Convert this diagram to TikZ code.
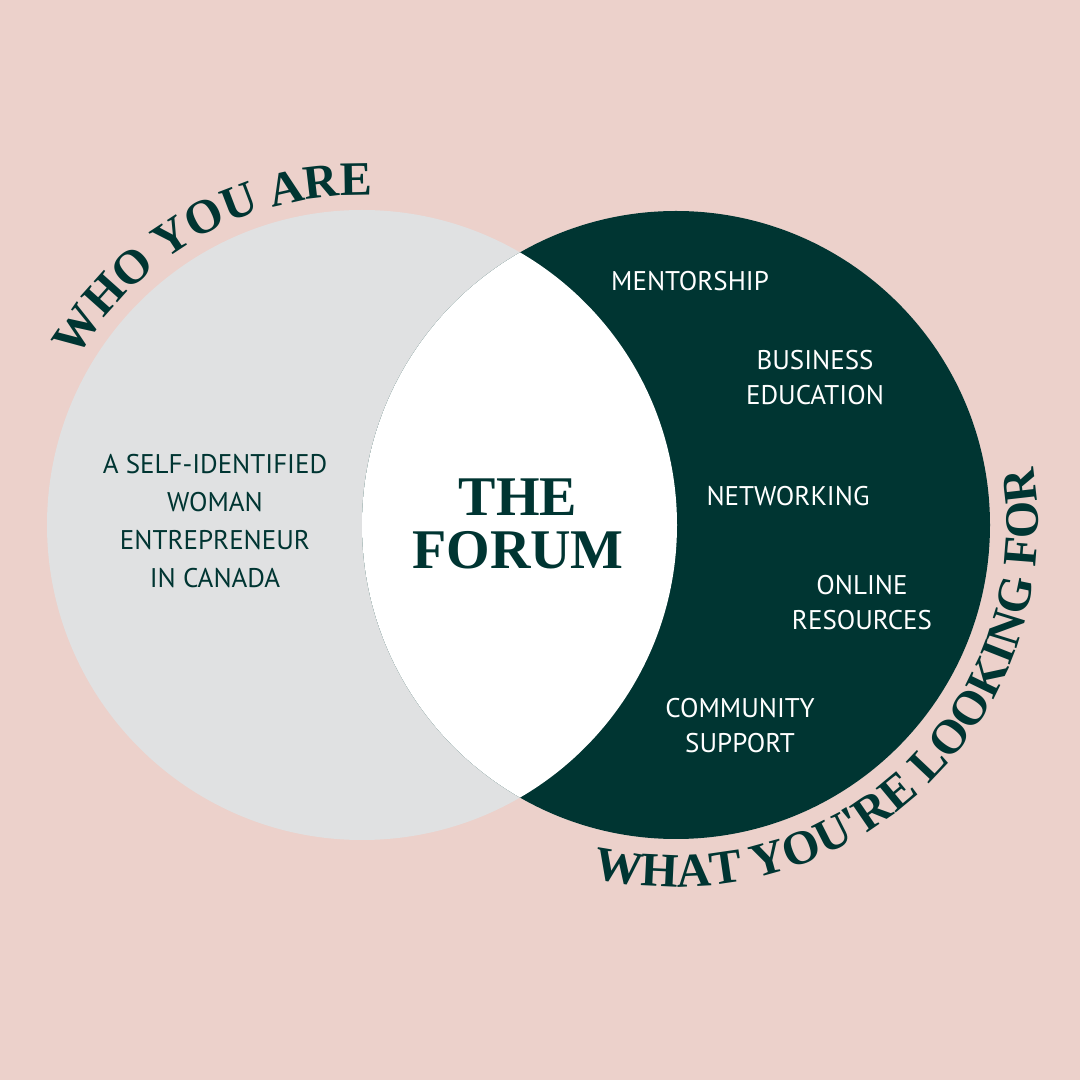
\documentclass[tikz,border=0pt]{standalone}
\usepackage{fontspec}
\setmainfont{Liberation Serif}
\newfontfamily\itemfont{PT Sans}
\newfontfamily\arcfont{Liberation Serif}
\usetikzlibrary{decorations.text}
\definecolor{bgpink}{RGB}{236,209,203}
\definecolor{forumgreen}{RGB}{0,53,50}
\definecolor{leftgray}{RGB}{224,225,226}
\tikzset{every picture/.style={line width=0.75pt}}
\tikzset{
  item/.style={font=\itemfont\fontsize{27}{35}\selectfont, align=center},
  whiteitem/.style={item, text=white}
}

\begin{document}
\begin{tikzpicture}[x=1pt,y=1pt]
	% background
	\fill[bgpink] (0,0) rectangle (1080,1080);
	\useasboundingbox (0,0) rectangle (1080,1080);

	% circles
	\fill[leftgray] (362,555) circle (315);
	\fill[forumgreen] (676,555) circle (314);
	\begin{scope}
		\clip (362,555) circle (315);
		\fill[white] (676,555) circle (314);
	\end{scope}

	% arc titles
	\path[decorate, decoration={text along path, text align=center,
		text={|\arcfont\bfseries\fontsize{48}{48}\selectfont\color{forumgreen}|WHO YOU ARE}}]
		(362,555) ++(152:330) arc (152:86:330);
	\path[decorate, decoration={text along path, text align=center,
		text={|\arcfont\bfseries\fontsize{48}{48}\selectfont\color{forumgreen}|WHAT YOU'RE LOOKING FOR}}]
		(676,555) ++(-106:362) arc (-106:12:362);

	% Text Node
	\node[item, text=forumgreen, font=\itemfont\fontsize{27}{38}\selectfont] (who) at (215,559) {A SELF-IDENTIFIED\\WOMAN\\ENTREPRENEUR\\IN CANADA};
	% Text Node
	\node[font=\bfseries\fontsize{56}{53}\selectfont, text=forumgreen, align=center] (forum) at (518,556) {THE\\FORUM};
	% Text Node
	\node[whiteitem] (mentor) at (690,799) {MENTORSHIP};
	\node[whiteitem] (business) at (815,702) {BUSINESS\\EDUCATION};
	\node[whiteitem] (network) at (788,584) {NETWORKING};
	\node[whiteitem] (online) at (862,477) {ONLINE\\RESOURCES};
	\node[whiteitem] (community) at (740,354) {COMMUNITY\\SUPPORT};
\end{tikzpicture}
\end{document}
